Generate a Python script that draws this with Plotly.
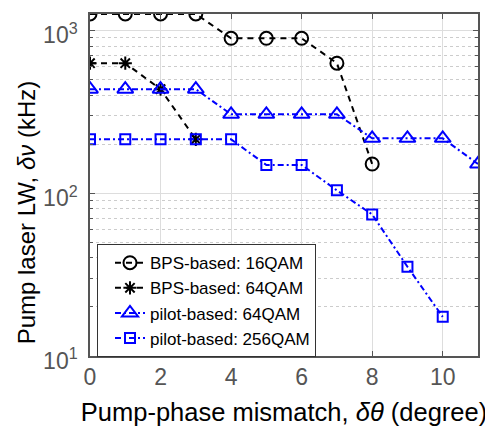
import plotly.graph_objects as go

x_bps16 = [0, 1, 2, 3, 4, 5, 6, 7, 8]
y_bps16 = [1260, 1260, 1260, 1260, 893, 893, 893, 628, 151]

x_bps64 = [0, 1, 2, 3]
y_bps64 = [628, 628, 435, 214]

x_pil64 = [0, 1, 2, 3, 4, 5, 6, 7, 8, 9, 10, 11]
y_pil64 = [435, 435, 435, 435, 305, 305, 305, 305, 217, 217, 217, 151]

x_pil256 = [0, 1, 2, 3, 4, 5, 6, 7, 8, 9, 10]
y_pil256 = [214, 214, 214, 214, 214, 149, 149, 104, 74, 35.3, 17.4]

names = ["BPS-based: 16QAM", "BPS-based: 64QAM", "pilot-based: 64QAM", "pilot-based: 256QAM"]

x_ticks = [0, 2, 4, 6, 8, 10]
y_ticks = [10, 100, 1000]
y_ticktext = ["10<sup>1</sup>", "10<sup>2</sup>", "10<sup>3</sup>"]
y_minor = [v * m for m in (10, 100) for v in range(2, 10)]

FONT = "Liberation Sans, Arial"
BLUE = "#0000ff"

fig = go.Figure()
fig.add_trace(go.Scatter(x=x_bps16, y=y_bps16, name=names[0], mode="lines+markers",
                         line=dict(color="black", width=2, dash="6px,5px"),
                         marker=dict(symbol="circle-open", size=13, color="black", line=dict(width=2))))
fig.add_trace(go.Scatter(x=x_bps64, y=y_bps64, name=names[1], mode="lines+markers",
                         line=dict(color="black", width=2, dash="6px,5px"),
                         marker=dict(symbol="asterisk-open", size=11, color="black", line=dict(width=2))))
fig.add_trace(go.Scatter(x=x_pil64, y=y_pil64, name=names[2], mode="lines+markers",
                         line=dict(color=BLUE, width=2, dash="6px,3px,2px,3px"),
                         marker=dict(symbol="triangle-up-open", size=14, color=BLUE, line=dict(width=2))))
fig.add_trace(go.Scatter(x=x_pil256, y=y_pil256, name=names[3], mode="lines+markers",
                         line=dict(color=BLUE, width=2, dash="6px,3px,2px,3px"),
                         marker=dict(symbol="square-open", size=10, color=BLUE, line=dict(width=2))))

axis_common = dict(showline=True, linecolor="#555555", linewidth=1.5, mirror="allticks",
                   ticks="inside", ticklen=5, tickcolor="#555555", automargin=False,
                   tickfont=dict(family=FONT, size=23, color="#555555"),
                   gridcolor="#dddddd", gridwidth=1, zeroline=False)

fig.update_xaxes(range=[0, 11], tickvals=x_ticks,
                 title=dict(text="Pump-phase mismatch, <i>δθ</i> (degree)",
                            font=dict(family=FONT, size=25.5, color="black"), standoff=14),
                 **axis_common)
fig.update_yaxes(type="log", range=[1, 3.1], tickvals=y_ticks, ticktext=y_ticktext,
                 ticklabelstandoff=6, ticklabelshift=5,
                 minor=dict(tickvals=y_minor, showgrid=True, griddash="dot", gridcolor="#cccccc",
                            ticks="inside", ticklen=3, tickcolor="#555555"),
                 **axis_common)

fig.add_annotation(text="Pump laser LW, <i>δν</i> (kHz)", textangle=-90,
                   xref="paper", yref="paper", x=-0.165, y=0.42,
                   xanchor="center", yanchor="middle", showarrow=False,
                   font=dict(family=FONT, size=24, color="black"))

fig.update_layout(
    width=485, height=421,
    margin=dict(l=82, r=15, t=6, b=73),
    plot_bgcolor="white", paper_bgcolor="white",
    font=dict(family=FONT),
    legend=dict(x=0.018, y=0.327, xanchor="left", yanchor="top",
                bgcolor="white", bordercolor="#333333", borderwidth=1,
                font=dict(family=FONT, size=17, color="black"),
                tracegroupgap=0, itemwidth=30, indentation=12),
    showlegend=True,
)

fig.write_html("out.html")
